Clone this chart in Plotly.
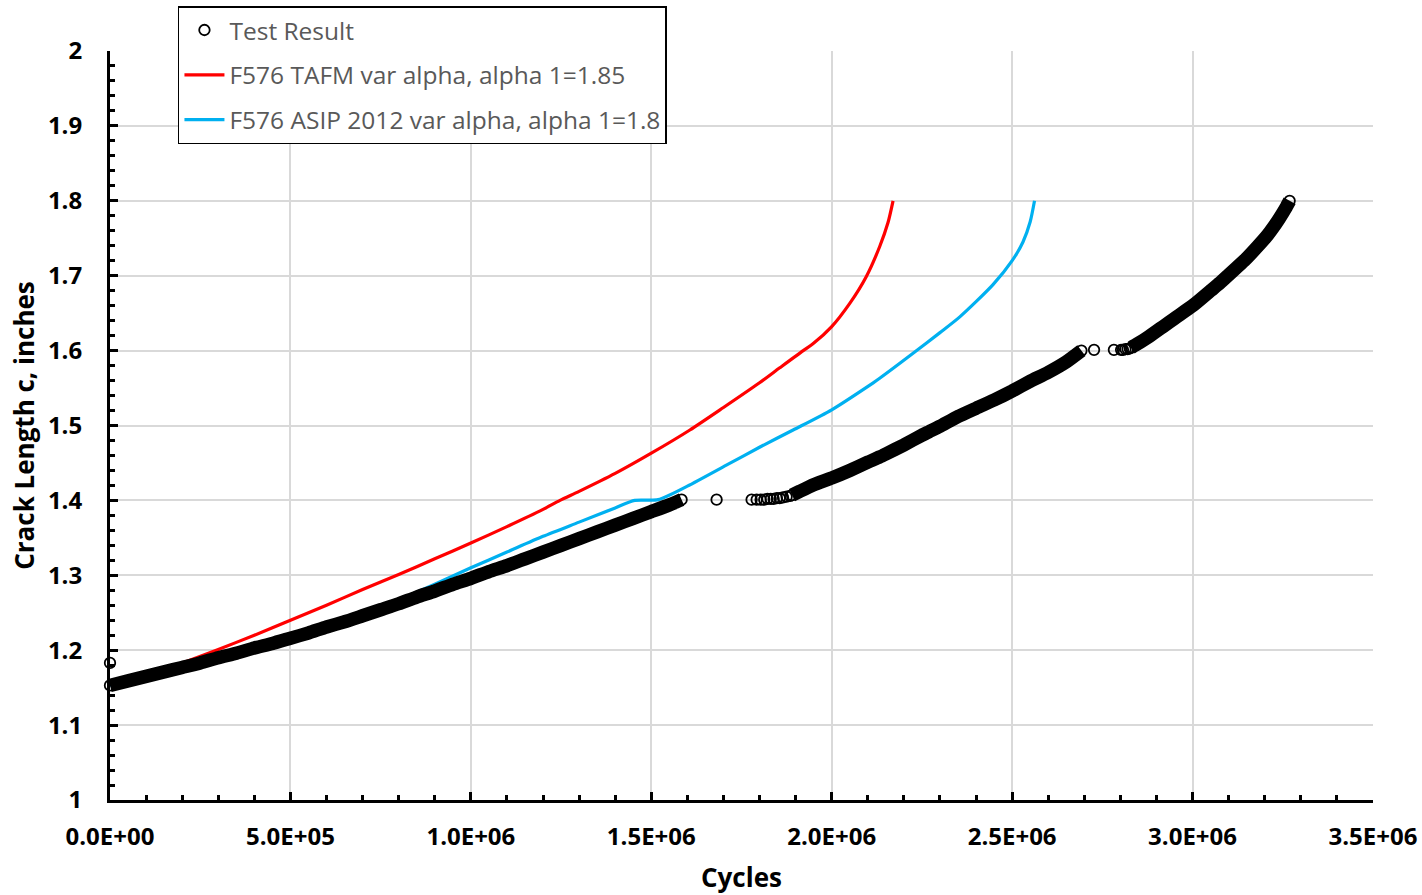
import plotly.graph_objects as go

# ---- Test result: three continuous measured runs (cycles, crack length c in inches)
run1_cycles = [0, 50000, 100000, 150000, 200000, 250000, 300000, 350000, 400000, 450000,
               500000, 550000, 600000, 650000, 700000, 750000, 800000, 850000, 900000, 950000,
               1000000, 1050000, 1100000, 1150000, 1200000, 1250000, 1300000, 1350000, 1400000,
               1450000, 1500000, 1550000, 1584000]
run1_crack = [1.153, 1.159, 1.165, 1.171, 1.177, 1.183, 1.190, 1.196, 1.203, 1.209,
              1.216, 1.223, 1.231, 1.238, 1.246, 1.254, 1.262, 1.271, 1.279, 1.288,
              1.296, 1.305, 1.313, 1.322, 1.331, 1.340, 1.349, 1.358, 1.367,
              1.376, 1.385, 1.394, 1.401]

run2_cycles = [1890000, 1911000, 1950000, 2000000, 2050000, 2100000, 2133000, 2150000,
               2200000, 2250000, 2271000, 2300000, 2350000, 2400000, 2450000, 2500000,
               2550000, 2600000, 2650000, 2692000]
run2_crack = [1.407, 1.412, 1.421, 1.430, 1.440, 1.451, 1.458, 1.462,
              1.474, 1.487, 1.492, 1.499, 1.512, 1.523, 1.534, 1.546,
              1.559, 1.571, 1.585, 1.600]

run3_cycles = [2830000, 2844000, 2880000, 2918000, 2950000, 3003000, 3050000, 3075000,
               3100000, 3149000, 3180000, 3204000, 3230000, 3241000, 3260000, 3269000]
run3_crack = [1.604, 1.608, 1.619, 1.632, 1.643, 1.661, 1.680, 1.690,
              1.701, 1.723, 1.739, 1.752, 1.769, 1.777, 1.792, 1.800]

# ---- Test result: individual readings between the runs
point_cycles = [0, 1681000, 1778000, 1792000, 1803000, 1813000, 1822000, 1831000, 1839000,
                1848000, 1856000, 1865000, 1875000, 1885000,
                2727000, 2782000, 2802000, 2807000, 2814000, 2820000, 2826000]
point_crack = [1.183, 1.401, 1.401, 1.401, 1.401, 1.401, 1.402, 1.402, 1.402,
               1.403, 1.403, 1.404, 1.405, 1.406,
               1.601, 1.601, 1.601, 1.601, 1.602, 1.602, 1.603]

# ---- F576 TAFM prediction
tafm_cycles = [0, 100000, 200000, 300000, 400000, 500000, 600000, 700000, 800000, 900000,
               1000000, 1100000, 1200000, 1247000, 1300000, 1400000, 1500000, 1607000,
               1700000, 1800000, 1856000, 1921000, 1948000, 2000000, 2050000, 2096000,
               2133000, 2156000, 2170000]
tafm_crack = [1.153, 1.167, 1.183, 1.201, 1.220, 1.240, 1.260, 1.281, 1.301, 1.322,
              1.343, 1.365, 1.388, 1.400, 1.412, 1.436, 1.463, 1.494,
              1.524, 1.557, 1.577, 1.600, 1.609, 1.632, 1.663, 1.699,
              1.739, 1.771, 1.800]

# ---- F576 ASIP 2012 prediction
asip_cycles = [0, 100000, 200000, 300000, 400000, 500000, 600000, 700000, 800000, 900000,
               1000000, 1100000, 1200000, 1300000, 1400000, 1454000, 1519000,
               1600000, 1708000, 1800000, 1893000, 2000000, 2115000, 2133000, 2230000,
               2300000, 2355000, 2447000, 2500000, 2530000, 2550000, 2562000]
asip_crack = [1.153, 1.165, 1.177, 1.190, 1.203, 1.217, 1.232, 1.248, 1.267, 1.288,
              1.310, 1.331, 1.352, 1.371, 1.390, 1.400, 1.401,
              1.419, 1.447, 1.471, 1.494, 1.521, 1.557, 1.563, 1.598,
              1.624, 1.645, 1.688, 1.720, 1.745, 1.772, 1.800]

# ---- Axis ticks
x_tickvals = [0, 500000, 1000000, 1500000, 2000000, 2500000, 3000000, 3500000]
x_ticktext = ["0.0E+00", "5.0E+05", "1.0E+06", "1.5E+06", "2.0E+06", "2.5E+06",
              "3.0E+06", "3.5E+06"]
y_tickvals = [1, 1.1, 1.2, 1.3, 1.4, 1.5, 1.6, 1.7, 1.8, 1.9, 2]
y_ticktext = ["1", "1.1", "1.2", "1.3", "1.4", "1.5", "1.6", "1.7", "1.8", "1.9", "2"]

FONT = "Open Sans"
RED = "#FF0000"
BLUE = "#00B0F0"

fig = go.Figure()

fig.add_trace(go.Scatter(
    x=tafm_cycles, y=tafm_crack, mode="lines",
    name="F576 TAFM var alpha, alpha 1=1.85",
    line=dict(color=RED, width=3.2, shape="spline", smoothing=0.7),
    legendgroup="tafm", legendrank=2,
))
fig.add_trace(go.Scatter(
    x=asip_cycles, y=asip_crack, mode="lines",
    name="F576 ASIP 2012 var alpha, alpha 1=1.8",
    line=dict(color=BLUE, width=3.2, shape="spline", smoothing=0.7),
    legendgroup="asip", legendrank=3,
))

# dense runs of test readings drawn as a solid band
band_x = run1_cycles + [None] + run2_cycles + [None] + run3_cycles
band_y = run1_crack + [None] + run2_crack + [None] + run3_crack
fig.add_trace(go.Scatter(
    x=band_x, y=band_y, mode="lines",
    line=dict(color="black", width=13.5, shape="spline", smoothing=0.5),
    showlegend=False, hoverinfo="skip", cliponaxis=False,
))

test_x = run1_cycles + point_cycles + run2_cycles + run3_cycles
test_y = run1_crack + point_crack + run2_crack + run3_crack
fig.add_trace(go.Scatter(
    x=test_x, y=test_y, mode="markers", name="Test Result",
    marker=dict(symbol="circle-open", size=10.5, color="black", line=dict(width=1.8)),
    legendgroup="test", legendrank=1, cliponaxis=False,
))

fig.update_layout(
    width=1422, height=895,
    margin=dict(l=110, r=49, t=51, b=95, autoexpand=False),
    paper_bgcolor="white", plot_bgcolor="white",
    font=dict(family=FONT, color="black"),
    showlegend=True,
    legend=dict(
        x=0.0538, y=1.0600, xanchor="left", yanchor="top",
        bgcolor="white", bordercolor="black", borderwidth=1.5,
        font=dict(family=FONT, size=24.5, color="#595959"),
        tracegroupgap=10, itemwidth=40,
    ),
)

fig.update_xaxes(
    range=[0, 3500000], automargin=False,
    tickmode="array", tickvals=x_tickvals, ticktext=x_ticktext,
    tickfont=dict(family=FONT, size=24, color="black", weight="bold"),
    ticks="inside", ticklen=8, tickwidth=2.5, tickcolor="black",
    ticklabelstandoff=13,
    minor=dict(dtick=100000, tick0=0, ticks="inside", ticklen=5, tickwidth=2.5,
               tickcolor="black", showgrid=False),
    showline=True, linewidth=3, linecolor="black",
    showgrid=True, gridcolor="#D9D9D9", gridwidth=1.5,
    zeroline=False,
    title=dict(text="Cycles", font=dict(family=FONT, size=26, color="black", weight="bold"),
               standoff=25),
)
fig.update_yaxes(
    range=[1, 2], automargin=False,
    tickmode="array", tickvals=y_tickvals, ticktext=y_ticktext,
    tickfont=dict(family=FONT, size=24, color="black", weight="bold"),
    ticks="inside", ticklen=8, tickwidth=2.5, tickcolor="black",
    ticklabelstandoff=20,
    minor=dict(dtick=0.02, tick0=1, ticks="inside", ticklen=5, tickwidth=2.5,
               tickcolor="black", showgrid=False),
    showline=True, linewidth=3, linecolor="black",
    showgrid=True, gridcolor="#D9D9D9", gridwidth=1.5,
    zeroline=False,
    title=dict(text="Crack Length c, inches",
               font=dict(family=FONT, size=26, color="black", weight="bold"),
               standoff=6),
)

fig.write_html("out.html")
